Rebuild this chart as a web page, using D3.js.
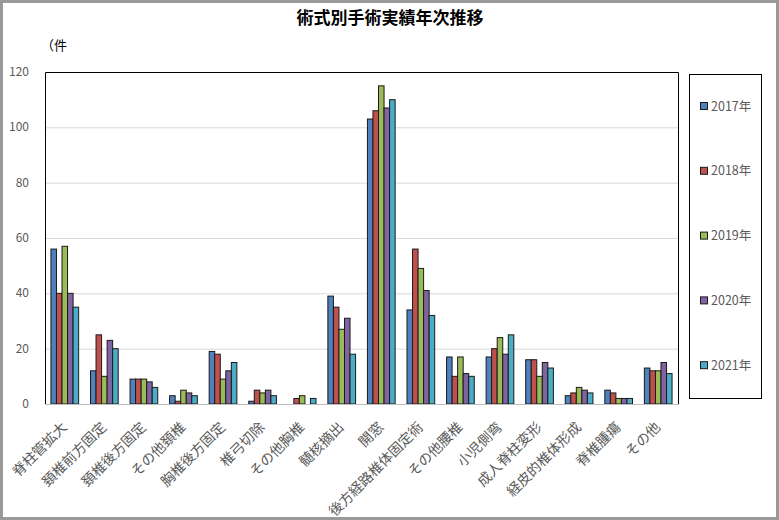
<!DOCTYPE html>
<html>
<head>
<meta charset="utf-8">
<script src="https://cdn.jsdelivr.net/npm/d3@7"></script>
<style>
  body { margin: 0; background: #fff; }
  text { font-family: "Noto Sans CJK JP", "Noto Sans", sans-serif; }
</style>
</head>
<body>
<svg></svg>
<script>
var categories = ["脊柱管拡大", "頚椎前方固定", "頚椎後方固定", "その他頚椎", "胸椎後方固定", "椎弓切除",
    "その他胸椎", "髄核摘出", "開窓", "後方経路椎体固定術", "その他腰椎", "小児側弯",
    "成人脊柱変形", "経皮的椎体形成", "脊椎腫瘍", "その他"];
var years = ["2017年", "2018年", "2019年", "2020年", "2021年"];
var v2017 = [56, 12, 9, 3, 19, 1, 0, 39, 103, 34, 17, 17, 16, 3, 5, 13];
var v2018 = [40, 25, 9, 1, 18, 5, 2, 35, 106, 56, 10, 20, 16, 4, 4, 12];
var v2019 = [57, 10, 9, 5, 9, 4, 3, 27, 115, 49, 17, 24, 10, 6, 2, 12];
var v2020 = [40, 23, 8, 4, 12, 5, 0, 31, 107, 41, 11, 18, 15, 5, 2, 15];
var v2021 = [35, 20, 6, 3, 15, 3, 2, 18, 110, 32, 10, 25, 13, 4, 2, 11];
var yTicks = [0, 20, 40, 60, 80, 100, 120];
var colors = ["#4F81BD", "#C0504D", "#9BBB59", "#8064A2", "#4BACC6"];

var series = [v2017, v2018, v2019, v2020, v2021];

var W = 779, H = 520;
var plot = {left: 45, right: 678, top: 72, bottom: 404};

var svg = d3.select("svg")
    .attr("width", W)
    .attr("height", H);

svg.append("rect")
    .attr("x", 1.5).attr("y", 1.5)
    .attr("width", W - 3).attr("height", H - 3)
    .attr("fill", "#fff")
    .attr("stroke", "#999")
    .attr("stroke-width", 3);

svg.append("text")
    .attr("x", 390)
    .attr("y", 24)
    .attr("text-anchor", "middle")
    .style("font-size", "17px")
    .style("font-weight", "bold")
    .attr("fill", "#000")
    .text("術式別手術実績年次推移");

svg.append("text")
    .attr("x", 41)
    .attr("y", 50)
    .style("font-size", "13px")
    .attr("fill", "#000")
    .text("（件");

var x = d3.scaleBand()
    .domain(categories)
    .range([plot.left, plot.right])
    .paddingInner(0.3)
    .paddingOuter(0.15);

var x1 = d3.scaleBand()
    .domain(years)
    .range([0, x.bandwidth()]);

var y = d3.scaleLinear()
    .domain([0, 120])
    .range([plot.bottom, plot.top]);

// gridlines
svg.append("g")
    .selectAll("line")
    .data(yTicks.slice(1, -1))
    .enter()
    .append("line")
    .attr("x1", plot.left).attr("x2", plot.right)
    .attr("y1", function(d) { return y(d) + 0.5; })
    .attr("y2", function(d) { return y(d) + 0.5; })
    .attr("stroke", "#d9d9d9");

// y tick labels
svg.append("g")
    .selectAll("text")
    .data(yTicks)
    .enter()
    .append("text")
    .attr("x", 29)
    .attr("y", function(d) { return y(d) + 4; })
    .attr("text-anchor", "end")
    .style("font-size", "12px")
    .attr("fill", "#595959")
    .text(function(d) { return d; });

// bars
var groups = svg.append("g")
    .selectAll("g")
    .data(series)
    .enter()
    .append("g")
    .attr("fill", function(d, i) { return colors[i]; });

groups.selectAll("rect")
    .data(function(d, i) { return d.map(function(v, j) { return {v: v, cat: categories[j], yr: years[i]}; }); })
    .enter()
    .filter(function(d) { return d.v > 0; })
    .append("rect")
    .attr("x", function(d) { return x(d.cat) + x1(d.yr); })
    .attr("y", function(d) { return y(d.v); })
    .attr("width", x1.bandwidth())
    .attr("height", function(d) { return y(0) - y(d.v); })
    .attr("stroke", "#1a1a1a")
    .attr("stroke-width", 1);

// plot frame
svg.append("path")
    .attr("d", "M" + (plot.left + 0.5) + "," + plot.bottom + "V" + (plot.top + 0.5) + "H" + (plot.right + 0.5) + "V" + plot.bottom)
    .attr("fill", "none")
    .attr("stroke", "#000");

svg.append("line")
    .attr("x1", plot.left).attr("x2", plot.right + 1)
    .attr("y1", plot.bottom + 0.5).attr("y2", plot.bottom + 0.5)
    .attr("stroke", "#bfbfbf");

// x labels
svg.append("g")
    .selectAll("text")
    .data(categories)
    .enter()
    .append("text")
    .attr("transform", function(d) {
        return "translate(" + (x(d) + x.bandwidth() / 2 + 3) + "," + (plot.bottom + 24) + ") rotate(-45)";
    })
    .attr("text-anchor", "end")
    .style("font-size", "14px")
    .attr("fill", "#595959")
    .text(function(d) { return d; });

// legend
svg.append("rect")
    .attr("x", 689.5).attr("y", 74.5)
    .attr("width", 72).attr("height", 324)
    .attr("fill", "#fff")
    .attr("stroke", "#000");

var legend = svg.append("g")
    .selectAll("g")
    .data(years)
    .enter()
    .append("g")
    .attr("transform", function(d, i) { return "translate(700," + (106 + i * 64.8) + ")"; });

legend.append("rect")
    .attr("x", 0.5).attr("y", -3.5)
    .attr("width", 7).attr("height", 7)
    .attr("fill", function(d, i) { return colors[i]; })
    .attr("stroke", "#1a1a1a");

legend.append("text")
    .attr("x", 11)
    .attr("y", 4.5)
    .style("font-size", "12.5px")
    .attr("fill", "#595959")
    .text(function(d) { return d; });
</script>
</body>
</html>
